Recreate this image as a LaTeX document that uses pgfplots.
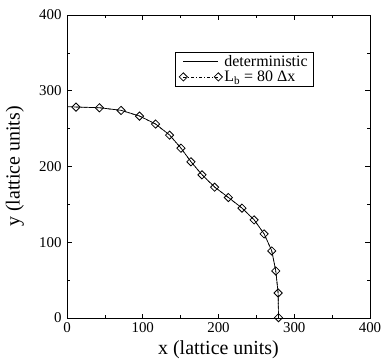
\documentclass[border=0pt]{standalone}
\usepackage{fontspec}
\setmainfont{Liberation Serif}
\usepackage{pgfplots}
\pgfplotsset{compat=1.18}
\begin{document}
\begin{tikzpicture}
\path[use as bounding box] (-67bp,-42bp) rectangle (316bp,318bp);
\begin{axis}[
  at={(0,0)}, anchor=south west,
  scale only axis,
  width=303bp, height=303bp,
  xmin=0, xmax=400, ymin=0, ymax=400,
  xtick={0,100,...,400}, ytick={0,100,...,400},
  minor tick num=1,
  tick align=inside,
  major tick length=4.5bp, minor tick length=3bp,
  axis line style={line width=0.9bp},
  every tick/.style={black, line width=0.7bp},
  /pgf/number format/assume math mode=true,
  tick label style={font=\fontsize{15}{15}\selectfont},
  xticklabel style={yshift=-1bp},
  yticklabel style={xshift=-2bp},
  xlabel={x (lattice units)}, ylabel={y (lattice units)},
  label style={font=\fontsize{20}{20}\selectfont},
  xlabel style={at={(axis description cs:0.5,-0.106)}, anchor=center},
  ylabel style={at={(axis description cs:-0.172,0.5)}, anchor=center},
  legend style={at={(0.356,0.878)}, anchor=north west, font=\fontsize{16}{17}\selectfont,
    draw=black, line width=0.7bp, inner xsep=4bp, inner ysep=1bp, row sep=-1bp,
    /tikz/every even column/.append style={column sep=6bp}},
  legend cell align=left,
  legend image code/.code={\draw[#1] plot coordinates {(0bp,0bp) (35bp,0bp)};},
]
\addplot[black, line width=0.7bp] coordinates {
(0,279) (11.9,278.6) (42.8,277.6) (71.4,274.2) (95.7,266.7) (116.9,256.2) (135.4,241.6)
(150.4,224.4) (163.6,206.4) (178.2,189.2) (194.9,172.9) (213,159.2) (231,145.2)
(247,129.7) (260.2,111.2) (270.3,88.7) (275.6,62.3) (278.7,33.2) (279.2,0)
};
\addlegendentry{deterministic}
\addplot[black, line width=0.6bp, dash pattern=on 3bp off 2bp on 1bp off 2bp,
  mark=square, mark size=2.9bp, mark options={solid, rotate=45, fill=white, line width=0.8bp}] coordinates {
(11.9,278.4) (42.8,277.5) (71.4,274) (95.7,266.5) (116.9,256) (135.4,241.4)
(150.4,224.2) (163.6,206.2) (178.2,189) (194.9,172.7) (213,159) (231,145)
(247,129.5) (260.2,111) (270.3,88.5) (275.6,62.1) (278.7,33) (279.2,0.4)
};
\addlegendentry{L\textsubscript{b} = 80 Δx}
\end{axis}
\end{tikzpicture}
\end{document}
